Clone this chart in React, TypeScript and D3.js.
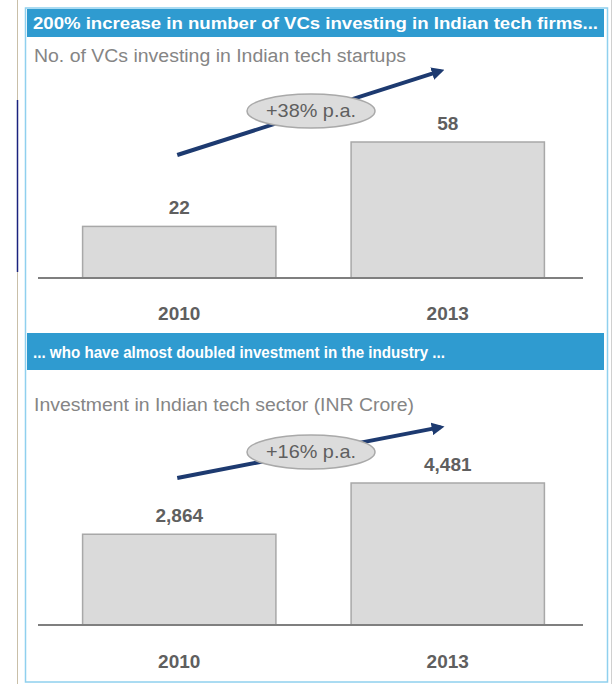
import React from "react";
import * as d3 from "d3";

const categories = ["2010", "2013"];
const vcCounts = [22, 58];
const investment = [2864, 4481];
const vcLabels = ["22", "58"];
const investLabels = ["2,864", "4,481"];
const headers = [
  "200% increase in number of VCs investing in Indian tech firms...",
  "... who have almost doubled investment in the industry ...",
];
const subtitles = [
  "No. of VCs investing in Indian tech startups",
  "Investment in Indian tech sector (INR Crore)",
];
const growthLabels = ["+38% p.a.", "+16% p.a."];

const W = 613;
const H = 684;
const FONT = "'Liberation Sans Narrow', 'Arial Narrow', 'Liberation Sans', Arial, sans-serif";
const HEADER_BG = "#2f9bd0";
const BAR_FILL = "#dadada";
const BAR_STROKE = "#a8a8a8";
const AXIS = "#7f7f7f";
const LABEL = "#5f5f5f";
const SUB = "#858585";
const ARROW = "#1d3a70";

const x = d3.scaleBand<string>().domain(categories).range([45, 582]).paddingInner(0.28).paddingOuter(0.14);

type PanelProps = {
  values: number[];
  labels: string[];
  header: string;
  headerW: number;
  subtitle: string;
  subW: number;
  growth: string;
  headerTop: number;
  headerH: number;
  subY: number;
  base: number;
  maxTop: number;
  arrowY0: number;
  arrowY1: number;
  ellipseY: number;
  yearY: number;
  id: string;
};

function Panel(p: PanelProps) {
  const y = d3.scaleLinear().domain([0, d3.max(p.values) as number]).range([p.base, p.maxTop]);
  const cx = categories.map((c) => (x(c) as number) + x.bandwidth() / 2);
  const ax0 = cx[0] - 2;
  const ax1 = cx[1] - 1;
  const ex = (ax0 + ax1) / 2 - 1;
  return (
    <g>
      <rect x={27} y={p.headerTop} width={577} height={p.headerH} fill={HEADER_BG} />
      <text
        x={33}
        y={p.headerTop + p.headerH / 2 + 6}
        fill="#ffffff"
        fontWeight="bold"
        fontSize={17}
        fontFamily={FONT}
        textLength={p.headerW}
        lengthAdjust="spacingAndGlyphs"
      >
        {p.header}
      </text>
      <text
        x={34}
        y={p.subY}
        fill={SUB}
        fontSize={18}
        fontFamily={FONT}
        textLength={p.subW}
        lengthAdjust="spacingAndGlyphs"
      >
        {p.subtitle}
      </text>
      {p.values.map((v, i) => (
        <rect
          key={i}
          x={x(categories[i]) as number}
          y={y(v)}
          width={x.bandwidth()}
          height={p.base - y(v)}
          fill={BAR_FILL}
          stroke={BAR_STROKE}
          strokeWidth={1.5}
        />
      ))}
      <line x1={38} x2={583} y1={p.base} y2={p.base} stroke={AXIS} strokeWidth={2} />
      {p.values.map((v, i) => (
        <text
          key={"l" + i}
          x={cx[i]}
          y={y(v) - 12}
          textAnchor="middle"
          fill={LABEL}
          fontWeight="bold"
          fontSize={19}
          fontFamily={FONT}
        >
          {p.labels[i]}
        </text>
      ))}
      {categories.map((c, i) => (
        <text
          key={"c" + i}
          x={cx[i]}
          y={p.yearY}
          textAnchor="middle"
          fill={LABEL}
          fontWeight="bold"
          fontSize={19}
          fontFamily={FONT}
        >
          {c}
        </text>
      ))}
      <defs>
        <marker id={"ah" + p.id} viewBox="0 0 10 10" refX={7} refY={5} markerWidth={3.2} markerHeight={3.2} orient="auto">
          <path d="M0,0 L10,5 L0,10 z" fill={ARROW} />
        </marker>
      </defs>
      <line
        x1={ax0}
        y1={p.arrowY0}
        x2={ax1 - 6}
        y2={p.arrowY1 + ((p.arrowY0 - p.arrowY1) * 6) / (ax1 - ax0)}
        stroke={ARROW}
        strokeWidth={4}
        markerEnd={`url(#ah${p.id})`}
      />
      <ellipse cx={ex} cy={p.ellipseY} rx={64} ry={17} fill="#dcdcdc" stroke="#a9a9a9" strokeWidth={1.5} />
      <text
        x={ex}
        y={p.ellipseY + 6}
        textAnchor="middle"
        fill={LABEL}
        fontSize={19}
        fontFamily={FONT}
        textLength={90}
        lengthAdjust="spacingAndGlyphs"
      >
        {p.growth}
      </text>
    </g>
  );
}

export default function App() {
  return (
    <svg width={W} height={H} style={{ position: "absolute", left: 0, top: 0, background: "#ffffff" }}>
      <rect x={0} y={0} width={W} height={H} fill="#ffffff" />
      <line x1={17.5} x2={17.5} y1={0} y2={H} stroke="#c9bfa8" strokeWidth={1} />
      <line x1={17.5} x2={17.5} y1={100} y2={272} stroke="#1a237e" strokeWidth={1.5} />
      <line x1={611.5} x2={611.5} y1={0} y2={H} stroke="#d0d0d0" strokeWidth={1} />
      <rect x={25.5} y={8} width={582} height={674} fill="#ffffff" stroke="#8fd0ee" strokeWidth={1.5} />
      <Panel
        id="a"
        values={vcCounts}
        labels={vcLabels}
        header={headers[0]}
        headerW={565}
        subtitle={subtitles[0]}
        subW={372}
        growth={growthLabels[0]}
        headerTop={9}
        headerH={28}
        subY={62}
        base={278}
        maxTop={142}
        arrowY0={155}
        arrowY1={69}
        ellipseY={111}
        yearY={320}
      />
      <Panel
        id="b"
        values={investment}
        labels={investLabels}
        header={headers[1]}
        headerW={412}
        subtitle={subtitles[1]}
        subW={380}
        growth={growthLabels[1]}
        headerTop={333}
        headerH={37}
        subY={411}
        base={625}
        maxTop={483}
        arrowY0={478}
        arrowY1={426}
        ellipseY={452}
        yearY={668}
      />
    </svg>
  );
}
